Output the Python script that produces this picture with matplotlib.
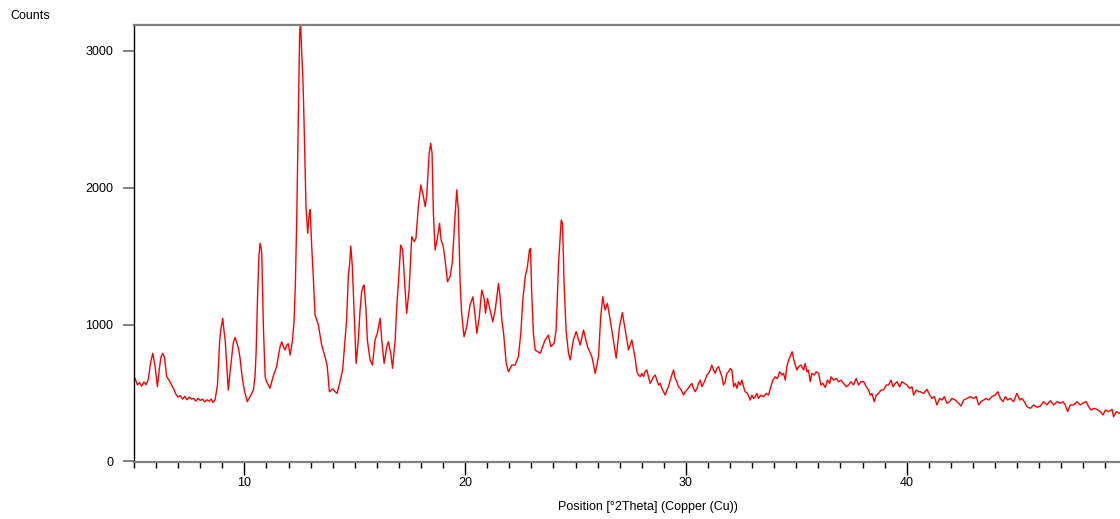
import matplotlib
matplotlib.use("Agg")
import matplotlib.pyplot as plt
from matplotlib.ticker import MultipleLocator

# 2theta positions and counts
two_theta = [
    5.00, 5.05, 5.15, 5.25, 5.35, 5.45, 5.55, 5.65, 5.75, 5.85, 5.95, 6.06,
    6.15, 6.22, 6.30, 6.38, 6.48, 6.60, 6.78, 6.90, 7.00, 7.10, 7.20, 7.30,
    7.40, 7.50, 7.60, 7.70, 7.80, 7.90, 8.00, 8.10, 8.20, 8.30, 8.40, 8.50,
    8.58, 8.67, 8.78, 8.88, 8.93, 9.02, 9.08, 9.13, 9.20, 9.27, 9.35, 9.43,
    9.50, 9.58, 9.65, 9.73, 9.80, 9.88, 9.95, 10.03, 10.13, 10.25, 10.41,
    10.48, 10.53, 10.60, 10.66, 10.71, 10.76, 10.79, 10.86, 10.94, 11.00,
    11.08, 11.16, 11.30, 11.46, 11.55, 11.62, 11.69, 11.76, 11.84, 11.92,
    11.99, 12.07, 12.17, 12.25, 12.31, 12.37, 12.44, 12.50, 12.54, 12.59,
    12.65, 12.70, 12.79, 12.87, 12.94, 12.98, 13.05, 13.12, 13.20, 13.35,
    13.50, 13.65, 13.75, 13.85, 14.00, 14.10, 14.20, 14.33, 14.45, 14.56,
    14.63, 14.71, 14.77, 14.82, 14.89, 14.97, 15.06, 15.16, 15.24, 15.31,
    15.38, 15.42, 15.50, 15.57, 15.69, 15.80, 15.92, 16.02, 16.15, 16.22,
    16.33, 16.45, 16.52, 16.63, 16.71, 16.83, 16.90, 16.98, 17.08, 17.17,
    17.28, 17.35, 17.46, 17.58, 17.69, 17.77, 17.88, 17.99, 18.08, 18.19,
    18.26, 18.37, 18.44, 18.50, 18.56, 18.64, 18.74, 18.84, 18.91, 19.01,
    19.09, 19.20, 19.32, 19.42, 19.54, 19.62, 19.69, 19.77, 19.84, 19.95,
    20.07, 20.22, 20.35, 20.42, 20.53, 20.64, 20.75, 20.86, 20.92, 21.01,
    21.13, 21.25, 21.36, 21.51, 21.58, 21.66, 21.74, 21.86, 21.96, 22.11,
    22.26, 22.41, 22.52, 22.61, 22.72, 22.82, 22.91, 22.96, 23.01, 23.09,
    23.17, 23.40, 23.62, 23.77, 23.88, 24.03, 24.12, 24.23, 24.35, 24.41,
    24.48, 24.57, 24.68, 24.76, 24.90, 25.03, 25.21, 25.36, 25.54, 25.74,
    25.89, 26.04, 26.14, 26.23, 26.34, 26.44, 26.57, 26.69, 26.84, 26.99,
    27.12, 27.25, 27.40, 27.55, 27.70,
    27.78, 27.85, 27.93, 28.00, 28.08, 28.15, 28.23, 28.30, 28.38, 28.46,
    28.53, 28.61, 28.68, 28.76, 28.83, 28.91, 28.98, 29.06, 29.14, 29.21,
    29.29, 29.36, 29.44, 29.51, 29.59, 29.66, 29.74, 29.82, 29.89, 29.97,
    30.04, 30.16, 30.27, 30.34, 30.42, 30.50, 30.57, 30.65, 30.72, 30.80,
    30.87, 30.95, 31.02, 31.10, 31.17, 31.25, 31.33, 31.40, 31.48, 31.55,
    31.63, 31.70, 31.78, 31.85, 31.93,
    32.01, 32.08, 32.16, 32.23, 32.31, 32.38, 32.46, 32.53, 32.61, 32.68,
    32.79, 32.91, 32.99, 33.06, 33.14, 33.21, 33.29, 33.39, 33.52, 33.64,
    33.74, 33.82, 33.94, 34.04, 34.15, 34.24, 34.35, 34.42, 34.50, 34.57,
    34.65, 34.72, 34.81, 34.87, 34.95, 35.03, 35.10, 35.21, 35.33, 35.40,
    35.48, 35.55, 35.63, 35.70, 35.81, 35.90, 36.01, 36.11, 36.20, 36.31,
    36.41, 36.51, 36.57, 36.69, 36.81, 36.91, 37.02, 37.14, 37.26, 37.37,
    37.47, 37.59, 37.71, 37.82, 37.93, 38.05, 38.17, 38.27, 38.35, 38.42,
    38.53, 38.62, 38.73, 38.83, 38.95, 39.07, 39.18, 39.29, 39.38, 39.48,
    39.56, 39.68, 39.78, 39.89, 40.01, 40.13, 40.24, 40.31, 40.43, 40.54,
    40.61, 40.76, 40.92, 41.04, 41.14, 41.25, 41.37, 41.49, 41.60, 41.70,
    41.82, 41.94, 42.05, 42.20, 42.35, 42.46, 42.58, 42.73, 42.88, 43.03,
    43.15, 43.26, 43.36, 43.48, 43.60, 43.71, 43.86, 44.01, 44.13, 44.24,
    44.36, 44.47, 44.57, 44.69, 44.84, 44.99, 45.12, 45.22, 45.33, 45.45,
    45.60, 45.75, 45.90, 46.05, 46.20, 46.35, 46.50, 46.66, 46.81, 46.96,
    47.08, 47.18, 47.29, 47.41, 47.56, 47.71, 47.86, 48.01, 48.13, 48.24,
    48.35, 48.47, 48.62, 48.77, 48.89, 49.00, 49.15, 49.30, 49.37, 49.49,
    49.65,
]
counts = [
    600, 607, 560, 575, 550, 580, 560, 600, 720, 790, 700, 545,
    680, 760, 790, 760, 619, 590, 534, 490, 470, 480, 455, 475,
    450, 470, 455, 460, 440, 460, 445, 455, 435, 450, 440, 455,
    430, 448, 558, 880, 960, 1045, 950, 887, 700, 521, 650, 765,
    870, 906, 870, 826, 760, 643, 560, 497, 436, 470, 521,
    620, 790, 1228, 1500, 1594, 1560, 1508, 984, 619, 583,
    560, 534, 620, 692, 780, 840, 874, 840, 814, 850,
    860, 777, 874, 1021, 1300, 1764, 2495, 3100, 3230, 3007,
    2800, 2495, 1862, 1667, 1813, 1840, 1569, 1350, 1070, 997,
    850, 765, 700, 509, 530, 510, 497, 582, 667, 887,
    1033, 1362, 1450, 1574, 1423, 1082, 716, 887, 1106, 1240,
    1280, 1289, 1130, 887, 741, 704, 887, 936, 1045, 887,
    716, 838, 874, 790, 680, 887, 1130, 1313, 1581, 1545,
    1252, 1082, 1252, 1642, 1606, 1630, 1862, 2020, 1959, 1862,
    1947, 2252, 2325, 2252, 1813, 1545, 1630, 1740, 1618, 1569,
    1472, 1313, 1350, 1459, 1789, 1984, 1837, 1313, 1082, 911,
    984, 1143, 1203, 1110, 936, 1057, 1252, 1191, 1082, 1191,
    1106, 1021, 1106, 1301, 1203, 1033, 936, 716, 655, 704,
    704, 765, 936, 1179, 1350, 1423, 1545, 1557, 1252, 936,
    814, 790, 887, 923, 838, 863, 960, 1448, 1764, 1740,
    1301, 960, 790, 741, 887, 948, 850, 960, 838, 765,
    643, 765, 1057, 1203, 1106, 1155, 1033, 911, 753, 984,
    1087, 960, 814, 887, 753,
    655, 631, 619, 643, 619, 655, 668, 619, 570, 594,
    619, 631, 594, 558, 570, 533, 509, 485, 521, 546,
    594, 631, 668, 607, 582, 546, 533, 509, 485, 509,
    521, 546, 570, 533, 509, 533, 570, 594, 546, 570,
    594, 631, 643, 668, 704, 668, 643, 680, 692, 655,
    619, 558, 582, 643, 655,
    679, 667, 545, 570, 533, 582, 558, 594, 545, 509,
    497, 448, 484, 460, 472, 497, 460, 484, 472, 497,
    484, 533, 594, 618, 606, 655, 631, 643, 594, 692,
    740, 765, 801, 752, 704, 667, 692, 704, 667, 716,
    655, 667, 582, 643, 631, 655, 643, 558, 570, 540,
    594, 570, 618, 594, 606, 582, 594, 570, 545, 558,
    582, 558, 606, 558, 582, 582, 545, 521, 484, 497,
    436, 484, 497, 521, 521, 558, 558, 594, 545, 570,
    582, 545, 582, 570, 558, 533, 545, 484, 521, 509,
    509, 497, 526, 485, 460, 473, 412, 460, 448, 473,
    424, 436, 460, 448, 424, 404, 448, 460, 473, 460,
    473, 412, 436, 448, 460, 448, 473, 485, 509, 460,
    436, 473, 448, 460, 436, 497, 448, 460, 436, 399,
    387, 412, 395, 404, 436, 412, 443, 412, 436, 424,
    436, 412, 363, 412, 412, 436, 412, 429, 436, 399,
    375, 387, 380, 363, 339, 375, 363, 380, 326, 363,
    351,
]

x_ticks = [10, 20, 30, 40]
y_ticks = [0, 1000, 2000, 3000]

fig = plt.figure(figsize=(11.2, 5.19), dpi=100)
ax = fig.add_axes([134 / 1120, 1 - 462 / 519, 1 - 134 / 1120, (462 - 25) / 519])

ax.plot(two_theta, counts, color="#ff0000", linewidth=1.0)

ax.set_xlim(5, 49.66)
ax.set_ylim(-5, 3190)

ax.xaxis.set_minor_locator(MultipleLocator(1))
ax.set_xticks(x_ticks)
ax.set_yticks(y_ticks)

ax.spines["right"].set_visible(False)
ax.spines["top"].set_color("#808080")
ax.spines["top"].set_linewidth(1.6)
ax.spines["bottom"].set_color("#808080")
ax.spines["bottom"].set_linewidth(1.6)
ax.spines["left"].set_color("black")
ax.spines["left"].set_linewidth(1.0)

font = "Liberation Sans"
ax.tick_params(axis="x", which="major", direction="out", length=9, width=1,
               color="black", pad=1.5, labelsize=9)
ax.tick_params(axis="x", which="minor", direction="out", length=4, width=1,
               color="black")
ax.tick_params(axis="y", which="major", direction="out", length=8, width=1.4,
               color="#808080", pad=7, labelsize=9)
for lab in ax.get_xticklabels() + ax.get_yticklabels():
    lab.set_fontfamily(font)

fig.text(10 / 1120, 1 - 16 / 519, "Counts", fontsize=9, family=font,
         ha="left", va="center")
fig.text(648 / 1120, 1 - 507 / 519, "Position [°2Theta] (Copper (Cu))",
         fontsize=9, family=font, ha="center", va="center")

fig.savefig("out.png", dpi=100)
